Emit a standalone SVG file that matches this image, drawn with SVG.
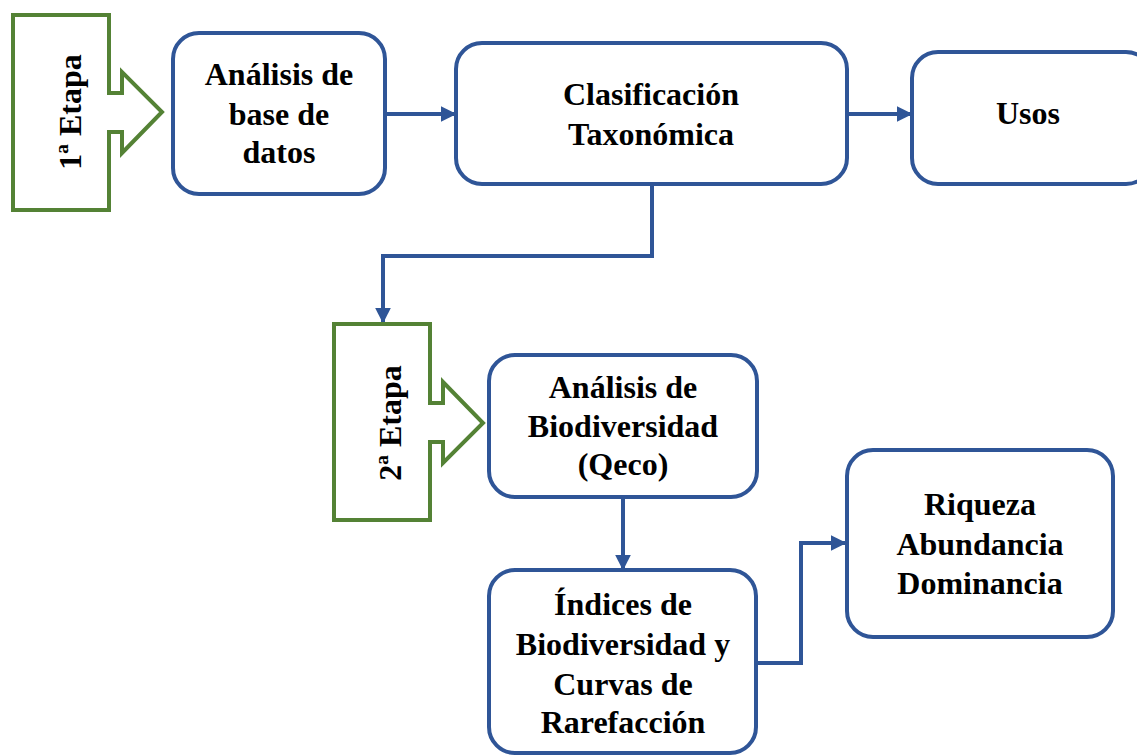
<svg xmlns="http://www.w3.org/2000/svg" width="1137" height="756" viewBox="0 0 1137 756">
<style>
.box{fill:#fff;stroke:#2F5597;stroke-width:4}
.stage{fill:#fff;stroke:#548235;stroke-width:4;stroke-linejoin:miter}
.conn{fill:none;stroke:#2F5597;stroke-width:4}
text{font-family:"Liberation Serif","Times New Roman",serif;font-weight:bold;font-size:32px;fill:#000;text-anchor:middle}
</style>
<defs>
<marker id="ah" viewBox="0 0 10 10" refX="9" refY="5" markerWidth="4" markerHeight="4" markerUnits="strokeWidth" orient="auto">
<path d="M0,0 L10,5 L0,10 Z" fill="#2F5597"/>
</marker>
</defs>
<rect width="1137" height="756" fill="#fff"/>
<g id="connectors">
<path class="conn" d="M385,114 H455" marker-end="url(#ah)"/>
<path class="conn" d="M847,114 H911" marker-end="url(#ah)"/>
<path class="conn" d="M652,184 V256 H383 V322" marker-end="url(#ah)"/>
<path class="conn" d="M623,497 V569" marker-end="url(#ah)"/>
<path class="conn" d="M756,663 H801 V543 H845" marker-end="url(#ah)"/>
</g>
<g id="stage1">
<path class="stage" d="M13,15 H109 V93 H122 V72 L162,112 L122,153 V132 H109 V210 H13 Z"/>
<text transform="translate(81,112) rotate(-90)">1ª Etapa</text>
</g>
<g id="analisis-base">
<rect class="box" x="173" y="33" width="212" height="161" rx="26"/>
<text x="279" y="85">Análisis de</text>
<text x="279" y="125">base de</text>
<text x="279" y="163">datos</text>
</g>
<g id="clasificacion">
<rect class="box" x="456" y="43" width="391" height="141" rx="26"/>
<text x="651" y="105">Clasificación</text>
<text x="651" y="145">Taxonómica</text>
</g>
<g id="usos">
<rect class="box" x="912" y="52" width="240" height="132" rx="26"/>
<text x="1028" y="124">Usos</text>
</g>
<g id="stage2">
<path class="stage" d="M334,324 H430 V403 H443 V382 L483,423 L443,463 V442 H430 V520 H334 Z"/>
<text transform="translate(401,423) rotate(-90)">2ª Etapa</text>
</g>
<g id="analisis-biodiversidad">
<rect class="box" x="489" y="355" width="268" height="142" rx="26"/>
<text x="623" y="398">Análisis de</text>
<text x="623" y="437">Biodiversidad</text>
<text x="623" y="475">(Qeco)</text>
</g>
<g id="indices">
<rect class="box" x="489" y="570" width="267" height="183" rx="26"/>
<text x="623" y="615">Índices de</text>
<text x="623" y="655">Biodiversidad y</text>
<text x="623" y="695">Curvas de</text>
<text x="623" y="733">Rarefacción</text>
</g>
<g id="riqueza">
<rect class="box" x="847" y="450" width="266" height="187" rx="26"/>
<text x="980" y="515">Riqueza</text>
<text x="980" y="555">Abundancia</text>
<text x="980" y="594">Dominancia</text>
</g>
</svg>
